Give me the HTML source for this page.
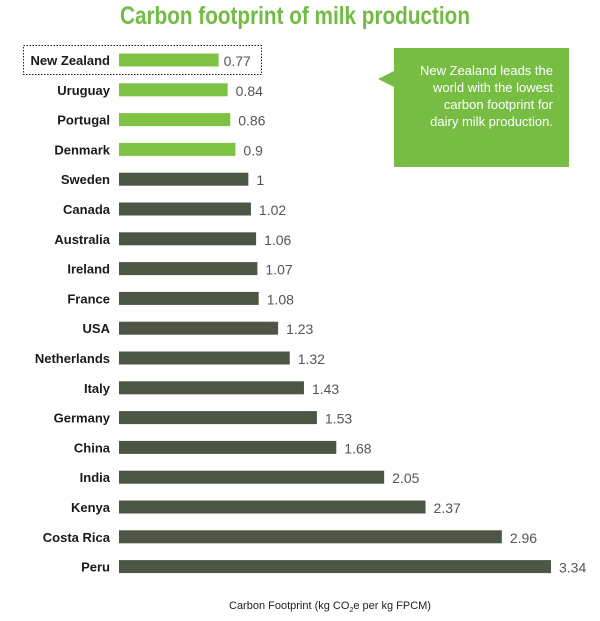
<!DOCTYPE html>
<html><head><meta charset="utf-8"><style>
body{margin:0;background:#fff;width:600px;height:616px;overflow:hidden;font-family:"Liberation Sans",sans-serif}
</style></head><body>
<svg id="chart" width="600" height="616" xmlns="http://www.w3.org/2000/svg">
<text x="120" y="24" textLength="350" lengthAdjust="spacingAndGlyphs" font-size="25" font-weight="bold" fill="#72bb45">Carbon footprint of milk production</text>
<rect x="23.5" y="45.5" width="238" height="29" fill="none" stroke="#222" stroke-dasharray="1.5,1.5"/>
<g>
<polygon points="394,48 569,48 569,167 394,167 394,87 378,79 394,71" fill="#77bd43"/>
<text x="553" y="75" text-anchor="end" font-size="13" fill="#fff"><tspan x="553">New Zealand leads the</tspan><tspan x="553" dy="17">world with the lowest</tspan><tspan x="553" dy="17">carbon footprint for</tspan><tspan x="553" dy="17">dairy milk production.</tspan></text>
</g>
<g id="bars"></g>
<text x="330" y="609" text-anchor="middle" font-size="11" fill="#222">Carbon Footprint (kg CO<tspan font-size="7" dy="3">2</tspan><tspan dy="-3">e per kg FPCM)</tspan></text>
</svg>
<script>
const countries=["New Zealand","Uruguay","Portugal","Denmark","Sweden","Canada","Australia","Ireland","France","USA","Netherlands","Italy","Germany","China","India","Kenya","Costa Rica","Peru"];
const values=[0.77,0.84,0.86,0.9,1,1.02,1.06,1.07,1.08,1.23,1.32,1.43,1.53,1.68,2.05,2.37,2.96,3.34];
const valueLabels=["0.77","0.84","0.86","0.9","1","1.02","1.06","1.07","1.08","1.23","1.32","1.43","1.53","1.68","2.05","2.37","2.96","3.34"];
const highlighted=[true,true,true,true,false,false,false,false,false,false,false,false,false,false,false,false,false,false];
const x0=119,scale=(551-119)/3.34;
const xs=v=>v*scale;
const ys=i=>60+i*29.8;
const g=document.getElementById('bars');
const NS="http://www.w3.org/2000/svg";
countries.forEach((c,i)=>{
 const y=ys(i);
 const t=document.createElementNS(NS,'text');
 t.setAttribute('x',110);t.setAttribute('y',y+5);t.setAttribute('text-anchor','end');
 t.setAttribute('font-size','13');t.setAttribute('font-weight','bold');t.setAttribute('fill','#1a1a1a');
 t.textContent=c;
 
 
 g.appendChild(t);
 const r=document.createElementNS(NS,'rect');
 r.setAttribute('x',x0);r.setAttribute('y',y-6.5);r.setAttribute('width',xs(values[i]));r.setAttribute('height',13);
 r.setAttribute('fill',highlighted[i]?'#7dc242':'#4d5544');
 
 
 g.appendChild(r);
 const v=document.createElementNS(NS,'text');
 v.setAttribute('x',x0+xs(values[i])+(i==0?5:8));v.setAttribute('y',y+6);
 v.setAttribute('font-size','14');v.setAttribute('fill','#555');
 v.textContent=valueLabels[i];
 
 
 g.appendChild(v);
});
</script>
</body></html>
